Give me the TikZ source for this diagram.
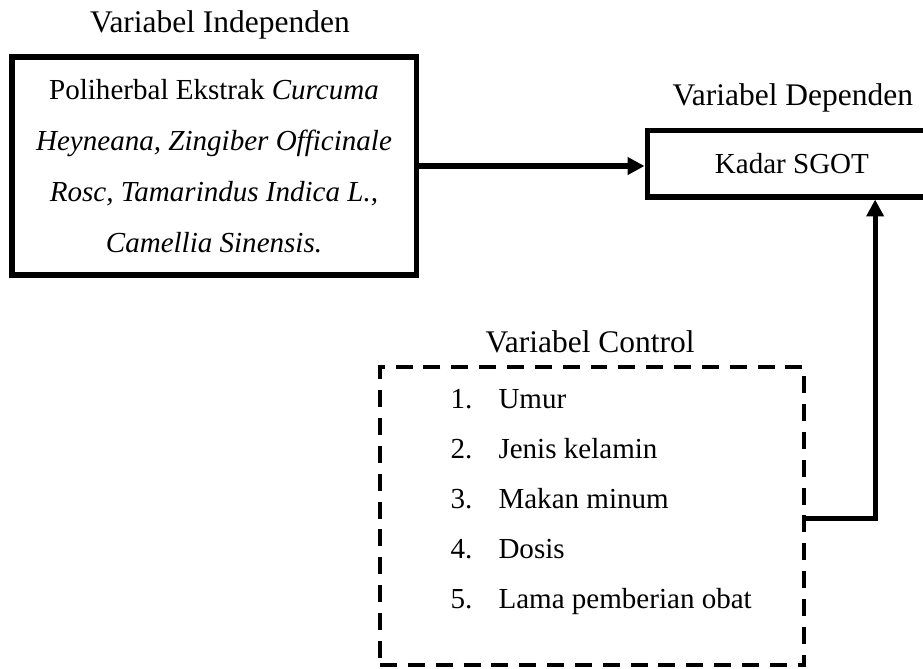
\documentclass[tikz,border=0pt]{standalone}
\usepackage{fontspec}
\setmainfont{Liberation Serif}
\usetikzlibrary{arrows.meta,positioning}
\tikzset{
    varbox/.style={draw, line width=2.1pt, inner sep=0pt, align=center,
        font=\fontsize{12}{21}\selectfont},
    ctrlbox/.style={draw, line width=1.6pt, dash pattern=on 7pt off 4.5pt},
    vartitle/.style={font=\fontsize{13}{15}\selectfont},
    listtext/.style={anchor=base west, inner sep=0pt, font=\fontsize{12}{14}\selectfont},
    link/.style={line width=2.1pt, -{Triangle[length=7pt,width=7pt]}},
}
\begin{document}
\begin{tikzpicture}
            \useasboundingbox (0,0) rectangle (13.40,-9.70);
            % Independent variable
            \node[varbox, minimum width=5.866cm, minimum height=3.165cm] (indep) at (3.107,-2.41)
                {Poliherbal Ekstrak \textit{Curcuma}\\ \textit{Heyneana, Zingiber Officinale}\\
                 \textit{Rosc, Tamarindus Indica L.,}\\ \textit{Camellia Sinensis.}};
            \node[vartitle] (indeptitle) at (3.194,-0.363) {Variabel Independen};
            % Dependent variable
            \node[varbox, minimum width=4.206cm, minimum height=0.972cm] (dep) at (11.497,-2.374) {Kadar SGOT};
            \node[vartitle] (deptitle) at (11.51,-1.423) {Variabel Dependen};
            % Control variables
            \node[ctrlbox, minimum width=6.156cm, minimum height=4.327cm] (ctrl) at (8.596,-7.4925) {};
            \node[vartitle] (ctrltitle) at (8.567,-4.966) {Variabel Control};
            \foreach \i/\txt in {1/Umur, 2/Jenis kelamin, 3/Makan minum, 4/Dosis, 5/Lama pemberian obat} {
                \node[listtext] (num\i) at (6.534,{-5.924-0.726*(\i-1)}) {\i.};
                \node[listtext] (item\i) at (7.23,{-5.924-0.726*(\i-1)}) {\txt};
            }
            % Connectors
            \draw[link] (indep.east) -- (indep.east -| dep.west);
            \coordinate (turn) at (12.705,-7.521);
            \draw[link] (turn -| ctrl.east) -- (turn) -- (turn |- dep.south);
        \end{tikzpicture}
\end{document}
